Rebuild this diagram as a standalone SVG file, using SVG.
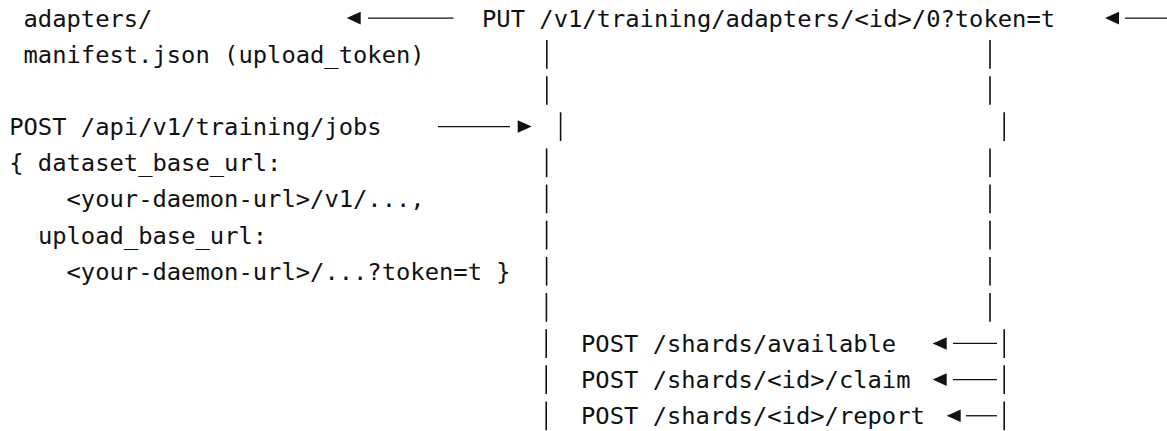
<svg xmlns="http://www.w3.org/2000/svg" width="1167" height="431" viewBox="0 0 1167 431">
  <style>
    .t { font-family: "DejaVu Sans Mono", "Liberation Mono", monospace; font-size: 23.8px; fill: #111; }
    .bar { stroke: #111; stroke-width: 1.6; fill: none; }
    .ln { stroke: #111; stroke-width: 1.3; fill: none; }
    .head { fill: #111; stroke: none; }
  </style>
  <rect width="1167" height="431" fill="#ffffff"/>
  <defs>
    <path id="hl" d="M0,0 L14,-6.3 L14,6.3 Z"/>
    <path id="hr" d="M0,0 L-14,-6.3 L-14,6.3 Z"/>
  </defs>

  <g id="node-manifest">
    <text class="t" x="23.5" y="26.7">adapters/</text>
    <text class="t" x="23.5" y="62.85">manifest.json (upload_token)</text>
  </g>

  <g id="node-put">
    <text class="t" x="482" y="26.7">PUT /v1/training/adapters/&lt;id&gt;/0?token=t</text>
  </g>

  <g id="node-post-jobs">
    <text class="t" x="9.2" y="135.15">POST /api/v1/training/jobs</text>
    <text class="t" x="9.2" y="171.3">{ dataset_base_url:</text>
    <text class="t" x="66.5" y="207.45">&lt;your-daemon-url&gt;/v1/...,</text>
    <text class="t" x="37.9" y="243.6">upload_base_url:</text>
    <text class="t" x="66.5" y="279.75">&lt;your-daemon-url&gt;/...?token=t }</text>
  </g>

  <g id="node-shards">
    <text class="t" x="581" y="352.05">POST /shards/available</text>
    <text class="t" x="581" y="388.2">POST /shards/&lt;id&gt;/claim</text>
    <text class="t" x="581" y="424.35">POST /shards/&lt;id&gt;/report</text>
  </g>

  <g id="connectors">
    <!-- row 0 arrows -->
    <line class="ln" x1="368" y1="18.1" x2="453.5" y2="18.1"/>
    <use href="#hl" class="head" x="346.7" y="18.1"/>
    <line class="ln" x1="1125" y1="18.1" x2="1167" y2="18.1"/>
    <use href="#hl" class="head" x="1105" y="18.1"/>

    <!-- row 3 arrow -->
    <line class="ln" x1="438" y1="126.55" x2="510" y2="126.55"/>
    <use href="#hr" class="head" x="531.7" y="126.55"/>

    <!-- left vertical bar -->
    <line class="bar" x1="546.8" y1="40" x2="546.8" y2="68.7"/>
    <line class="bar" x1="546.8" y1="76.15" x2="546.8" y2="104.85"/>
    <line class="bar" x1="560.6" y1="112.3" x2="560.6" y2="141"/>
    <line class="bar" x1="546.6" y1="148.45" x2="546.6" y2="177.15"/>
    <line class="bar" x1="546.6" y1="184.6" x2="546.6" y2="213.3"/>
    <line class="bar" x1="546.6" y1="220.75" x2="546.6" y2="249.45"/>
    <line class="bar" x1="546.6" y1="256.9" x2="546.6" y2="285.6"/>
    <line class="bar" x1="546.4" y1="293.05" x2="546.4" y2="321.75"/>
    <line class="bar" x1="546.2" y1="329.2" x2="546.2" y2="357.9"/>
    <line class="bar" x1="546.2" y1="365.35" x2="546.2" y2="394.05"/>
    <line class="bar" x1="546.2" y1="401.5" x2="546.2" y2="430.2"/>

    <!-- right vertical bar -->
    <line class="bar" x1="990" y1="40" x2="990" y2="68.7"/>
    <line class="bar" x1="990" y1="76.15" x2="990" y2="104.85"/>
    <line class="bar" x1="1004.2" y1="112.3" x2="1004.2" y2="141"/>
    <line class="bar" x1="990" y1="148.45" x2="990" y2="177.15"/>
    <line class="bar" x1="990" y1="184.6" x2="990" y2="213.3"/>
    <line class="bar" x1="990" y1="220.75" x2="990" y2="249.45"/>
    <line class="bar" x1="990" y1="256.9" x2="990" y2="285.6"/>
    <line class="bar" x1="990" y1="293.05" x2="990" y2="321.75"/>
    <line class="bar" x1="1004.2" y1="329.2" x2="1004.2" y2="357.9"/>
    <line class="bar" x1="1004.2" y1="365.35" x2="1004.2" y2="394.05"/>
    <line class="bar" x1="1004.2" y1="401.5" x2="1004.2" y2="430.2"/>

    <!-- shard arrows -->
    <line class="ln" x1="953" y1="343.45" x2="997" y2="343.45"/>
    <use href="#hl" class="head" x="932.7" y="343.45"/>
    <line class="ln" x1="953" y1="379.6" x2="997" y2="379.6"/>
    <use href="#hl" class="head" x="932.7" y="379.6"/>
    <line class="ln" x1="966" y1="415.75" x2="997" y2="415.75"/>
    <use href="#hl" class="head" x="946.7" y="415.75"/>
  </g>
</svg>
